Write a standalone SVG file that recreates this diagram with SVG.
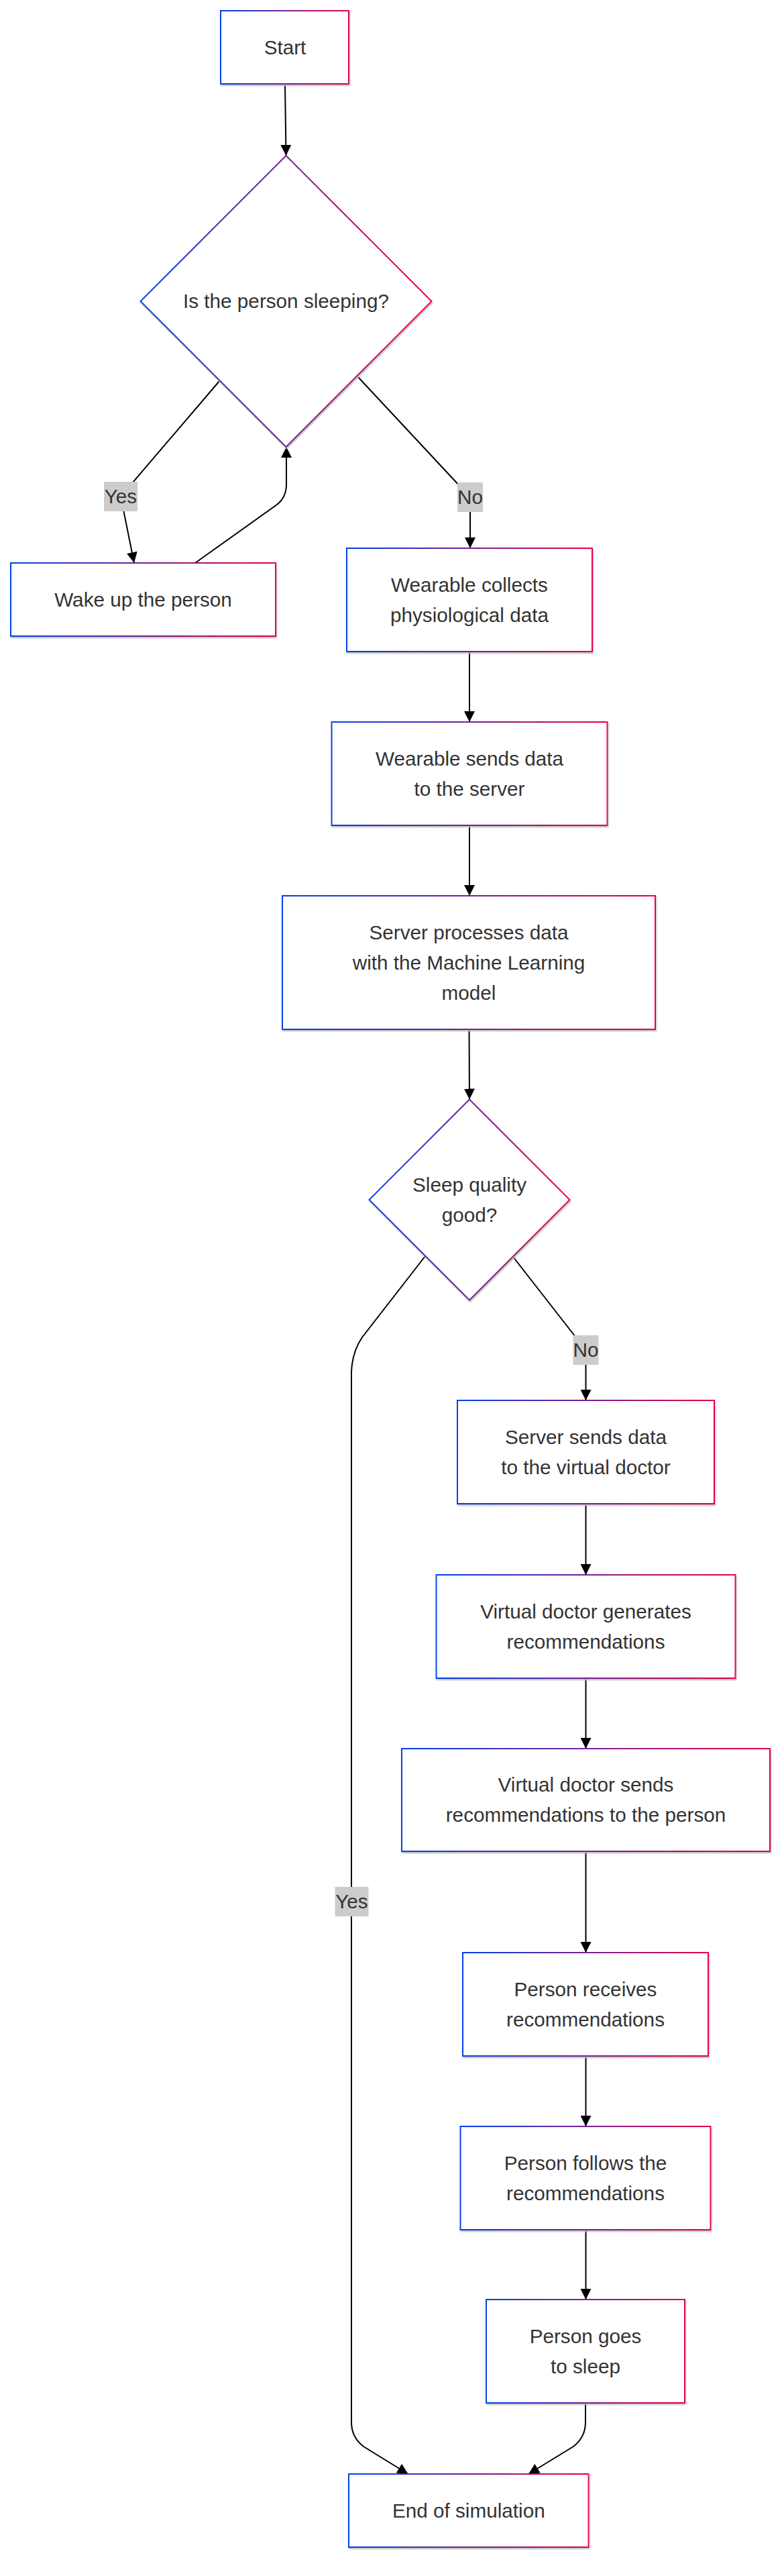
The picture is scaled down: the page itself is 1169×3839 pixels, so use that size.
<svg xmlns="http://www.w3.org/2000/svg" width="1169" height="3839" viewBox="0 0 1169 3839">
<defs>
<linearGradient id="grad" x1="0" y1="0" x2="1" y2="0">
<stop offset="0" stop-color="#0042eb"/>
<stop offset="1" stop-color="#eb0042"/>
</linearGradient>
<filter id="shadow" x="-10%" y="-10%" width="125%" height="130%">
<feDropShadow dx="1" dy="2" stdDeviation="1.2" flood-color="#b9b9b9" flood-opacity="1"/>
</filter>
<marker id="arrow" viewBox="0 0 10 10" refX="10" refY="5" markerUnits="userSpaceOnUse" markerWidth="16" markerHeight="16" orient="auto">
<path d="M0,0 L10,5 L0,10 z" fill="#000"/>
</marker>
<style>
.shape{fill:#fff;stroke:url(#grad);stroke-width:2;filter:url(#shadow);}
.t{font-family:"Liberation Sans",Arial,sans-serif;font-size:29.7px;fill:#333;text-anchor:middle;}
.edge{fill:none;stroke:#000;stroke-width:2;marker-end:url(#arrow);}
.lblbg{fill:#cccccc;}
</style>
</defs>
<rect width="1169" height="3839" fill="#fff"/>
<g id="connectors">
<path class="edge" d="M425,125 L426.5,232"/>
<path class="edge" d="M327,568 L180,740 L200,839"/>
<path class="edge" d="M291,839 L413,752 Q427,741 427,722 L427,666"/>
<path class="edge" d="M534,562 L701,741 L701,817"/>
<path class="edge" d="M700,971 L700,1076"/>
<path class="edge" d="M700,1230 L700,1335"/>
<path class="edge" d="M699.5,1534 L700,1638.5"/>
<path class="edge" d="M765,1873 L873.5,2012 L873.5,2087"/>
<path class="edge" d="M634,1872 L540,1993 Q525,2015 524,2045 L524,3610 Q524,3632 542,3646 L608.5,3687"/>
<path class="edge" d="M873.5,2241 L873.5,2347"/>
<path class="edge" d="M873.5,2501 L873.5,2606"/>
<path class="edge" d="M873.5,2759 L873.5,2910"/>
<path class="edge" d="M873.5,3064 L873.5,3169"/>
<path class="edge" d="M873.5,3323 L873.5,3427"/>
<path class="edge" d="M873,3581 L873,3610 Q873,3632 855,3646 L788,3687"/>
<g id="edge-labels">
<rect class="lblbg" x="155" y="718" width="50" height="44"/>
<text class="t" x="180" y="750.3">Yes</text>
<rect class="lblbg" x="682" y="719" width="38" height="44"/>
<text class="t" x="701" y="751.3">No</text>
<rect class="lblbg" x="854.5" y="1990" width="38" height="44"/>
<text class="t" x="873.5" y="2022.3">No</text>
<rect class="lblbg" x="499.5" y="2812" width="50" height="44"/>
<text class="t" x="524.5" y="2844.3">Yes</text>
</g>
</g>
<g id="start">
<rect class="shape" x="329" y="16" width="191" height="109"/>
<text class="t" x="425" y="80.8">Start</text>
</g>
<g id="is-sleeping">
<polygon class="shape" points="426.5,232 643.5,449 426.5,666 209.5,449"/>
<text class="t" x="426.5" y="459.3">Is the person sleeping?</text>
</g>
<g id="wake-up">
<rect class="shape" x="16" y="839" width="395" height="109"/>
<text class="t" x="213.5" y="903.8">Wake up the person</text>
</g>
<g id="wearable-collects">
<rect class="shape" x="517" y="817" width="366" height="154"/>
<text class="t" x="700" y="881.8">Wearable collects</text>
<text class="t" x="700" y="926.8">physiological data</text>
</g>
<g id="wearable-sends">
<rect class="shape" x="494.5" y="1076" width="411" height="154"/>
<text class="t" x="700" y="1140.8">Wearable sends data</text>
<text class="t" x="700" y="1185.8">to the server</text>
</g>
<g id="server-processes">
<rect class="shape" x="421" y="1335" width="556" height="199"/>
<text class="t" x="699" y="1399.8">Server processes data</text>
<text class="t" x="699" y="1444.8">with the Machine Learning</text>
<text class="t" x="699" y="1489.8">model</text>
</g>
<g id="sleep-quality">
<polygon class="shape" points="700,1638.5 849.5,1788 700,1937.5 550.5,1788"/>
<text class="t" x="700" y="1775.8">Sleep quality</text>
<text class="t" x="700" y="1820.8">good?</text>
</g>
<g id="server-sends">
<rect class="shape" x="682" y="2087" width="383" height="154"/>
<text class="t" x="873.5" y="2151.8">Server sends data</text>
<text class="t" x="873.5" y="2196.8">to the virtual doctor</text>
</g>
<g id="vd-generates">
<rect class="shape" x="650.5" y="2347" width="446" height="154"/>
<text class="t" x="873.5" y="2411.8">Virtual doctor generates</text>
<text class="t" x="873.5" y="2456.8">recommendations</text>
</g>
<g id="vd-sends">
<rect class="shape" x="599" y="2606" width="549" height="153"/>
<text class="t" x="873.5" y="2670.3">Virtual doctor sends</text>
<text class="t" x="873.5" y="2715.3">recommendations to the person</text>
</g>
<g id="person-receives">
<rect class="shape" x="690" y="2910" width="366" height="154"/>
<text class="t" x="873" y="2974.8">Person receives</text>
<text class="t" x="873" y="3019.8">recommendations</text>
</g>
<g id="person-follows">
<rect class="shape" x="686.5" y="3169" width="373" height="154"/>
<text class="t" x="873" y="3233.8">Person follows the</text>
<text class="t" x="873" y="3278.8">recommendations</text>
</g>
<g id="person-sleeps">
<rect class="shape" x="725" y="3427" width="296" height="154"/>
<text class="t" x="873" y="3491.8">Person goes</text>
<text class="t" x="873" y="3536.8">to sleep</text>
</g>
<g id="end">
<rect class="shape" x="520" y="3687" width="357.6" height="109"/>
<text class="t" x="698.8" y="3751.8">End of simulation</text>
</g>
</svg>
